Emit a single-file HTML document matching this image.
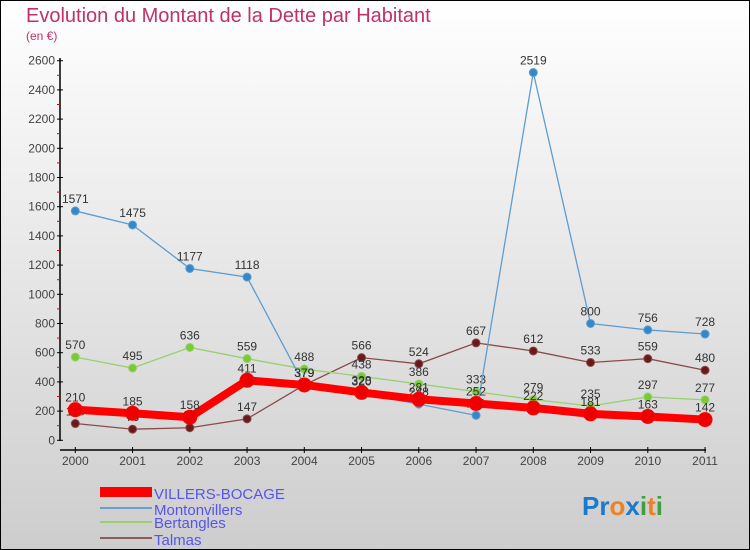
<!DOCTYPE html>
<html><head><meta charset="utf-8"><style>
body{margin:0;width:750px;height:550px;overflow:hidden;font-family:"Liberation Sans",sans-serif}
svg{display:block}
</style></head><body>
<svg id="c" width="750" height="550" xmlns="http://www.w3.org/2000/svg">
<defs><linearGradient id="bg" x1="0" y1="0" x2="0" y2="1"><stop offset="0" stop-color="#ffffff"/><stop offset="1" stop-color="#cdcdcd"/></linearGradient></defs>
<rect x="0.5" y="0.5" width="749" height="549" fill="url(#bg)" stroke="#000"/>
<text x="26" y="22" font-size="20" fill="#c0306a">Evolution du Montant de la Dette par Habitant</text>
<text x="26" y="40" font-size="12" fill="#c0306a">(en €)</text>
<g id="axes"></g><g id="series"></g>
<g>
<rect x="100" y="487" width="52" height="10" fill="#f00"/>
<text x="154" y="499" font-size="15" fill="#5555ee">VILLERS-BOCAGE</text>
<line x1="100" y1="508" x2="152" y2="508" stroke="#6aa0c8" stroke-width="2"/>
<text x="154" y="515" font-size="15" fill="#5555ee">Montonvillers</text>
<line x1="100" y1="522" x2="152" y2="522" stroke="#99d070" stroke-width="2"/>
<text x="154" y="528" font-size="15" fill="#5555ee">Bertangles</text>
<line x1="100" y1="538" x2="152" y2="538" stroke="#8a5c5c" stroke-width="2"/>
<text x="154" y="545" font-size="15" fill="#5555ee">Talmas</text>
</g>
<text x="582" y="515" font-size="26" font-weight="bold"><tspan fill="#1a7acc">Pr</tspan><tspan fill="#f08020">o</tspan><tspan fill="#1a7acc">x</tspan><tspan fill="#40a040">i</tspan><tspan fill="#f08020">t</tspan><tspan fill="#40a040">i</tspan></text>
</svg>
<script>
const years=["2000","2001","2002","2003","2004","2005","2006","2007","2008","2009","2010","2011"];
const villers=[210,185,158,411,379,328,281,252,222,181,163,142];
const montonvillers=[1571,1475,1177,1118,379,320,248,171,2519,800,756,728];
const bertangles=[570,495,636,559,488,438,386,333,279,235,297,277];
const talmas=[115,76,86,147,379,566,524,667,612,533,559,480];
const yTicks=[0,200,400,600,800,1000,1200,1400,1600,1800,2000,2200,2400,2600];
const NS="http://www.w3.org/2000/svg";
const X=i=>75.3+i*57.25;
const Y=v=>440.3-v*(379.6/2600);
function mk(tag,attrs,parent){const e=document.createElementNS(NS,tag);for(const k in attrs)e.setAttribute(k,attrs[k]);parent.appendChild(e);return e;}
const ax=document.getElementById('axes'),sr=document.getElementById('series');
let l=mk('line',{x1:60,y1:58,x2:60,y2:441,stroke:'#000','stroke-width':1.5},ax);


l=mk('line',{x1:60,y1:450,x2:706,y2:450,stroke:'#000','stroke-width':1.5},ax);


yTicks.forEach((v,i)=>{
  let t=mk('line',{x1:57,y1:Y(v),x2:63,y2:Y(v),stroke:'#000'},ax);
  
  
  if(i<yTicks.length-1){let m=mk('line',{x1:57,y1:Y(v+100),x2:60,y2:Y(v+100),stroke:'#e00'},ax);
  
  }
  let tx=mk('text',{x:55,y:Y(v)+4,'font-size':12,fill:'#444','text-anchor':'end'},ax);tx.textContent=v;
  
  
});
years.forEach((y,i)=>{
  let t=mk('line',{x1:X(i),y1:447,x2:X(i),y2:453,stroke:'#000'},ax);
  
  
  let tx=mk('text',{x:X(i),y:465,'font-size':12,fill:'#444','text-anchor':'middle'},ax);tx.textContent=y;
  
  
});
function series(data,color,w,r,name,dot){
  const g=mk('g',{},sr);
  
  
  const p=mk('polyline',{points:data.map((v,i)=>X(i)+','+Y(v)).join(' '),fill:'none',stroke:color,'stroke-width':w},g);
  
  
  data.forEach((v,i)=>{
    const c=mk('circle',{cx:X(i),cy:Y(v),r:r,fill:dot,stroke:color,'stroke-width':1},g);
    
    
    const t=mk('text',{x:X(i),y:Y(v)-8,'font-size':12,fill:'#333','text-anchor':'middle'},g);t.textContent=v;
    
    
  });
}
series(talmas,'#8a4a4a',1.3,4,'talmas','#6a1a1a');
series(bertangles,'#99d070',1.3,4,'bertangles','#77cc33');
series(montonvillers,'#5d9dd0',1.3,4,'montonvillers','#3388cc');
series(villers,'#ff0000',8,7,'villers-bocage','#ee0000');
</script>
</body></html>
